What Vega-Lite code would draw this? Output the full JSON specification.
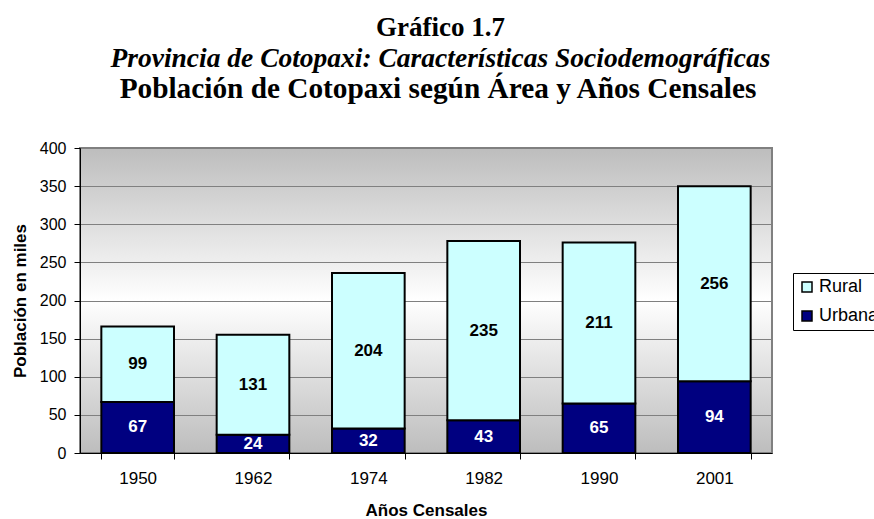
{
  "$schema": "https://vega.github.io/schema/vega-lite/v6.json",
  "background": "white",
  "padding": {"left": 10, "top": 14, "right": 0, "bottom": 0},
  "title": {
    "text": "Gráfico 1.7",
    "subtitle": "Provincia de Cotopaxi: Características Sociodemográficas",
    "font": "Liberation Serif",
    "fontSize": 27,
    "lineHeight": 22,
    "fontWeight": "bold",
    "color": "black",
    "subtitleFont": "Liberation Serif",
    "subtitleFontSize": 27.5,
    "subtitleLineHeight": 22,
    "subtitleFontStyle": "italic",
    "subtitleFontWeight": "bold",
    "subtitleColor": "black",
    "subtitlePadding": 3,
    "anchor": "middle",
    "dx": -7,
    "offset": 0
  },
  "datasets": {
    "pob": [
      {"anio": "1950", "area": "Urbana", "poblacion": 67},
      {"anio": "1950", "area": "Rural", "poblacion": 99},
      {"anio": "1962", "area": "Urbana", "poblacion": 24},
      {"anio": "1962", "area": "Rural", "poblacion": 131},
      {"anio": "1974", "area": "Urbana", "poblacion": 32},
      {"anio": "1974", "area": "Rural", "poblacion": 204},
      {"anio": "1982", "area": "Urbana", "poblacion": 43},
      {"anio": "1982", "area": "Rural", "poblacion": 235},
      {"anio": "1990", "area": "Urbana", "poblacion": 65},
      {"anio": "1990", "area": "Rural", "poblacion": 211},
      {"anio": "2001", "area": "Urbana", "poblacion": 94},
      {"anio": "2001", "area": "Rural", "poblacion": 256}
    ]
  },
  "vconcat": [
    {
      "title": {
        "text": "Población de Cotopaxi según Área y Años Censales",
        "font": "Liberation Serif",
        "fontSize": 29.3,
        "lineHeight": 22,
        "fontWeight": "bold",
        "color": "black",
        "anchor": "middle",
        "dx": 12,
        "offset": 36
      },
      "width": 692,
      "height": 305,
      "view": {
        "stroke": "#808080",
        "strokeWidth": 2,
        "fill": {
          "gradient": "linear",
          "x1": 0, "y1": 0, "x2": 0, "y2": 1,
          "stops": [
            {"offset": 0, "color": "#bdbdbd"},
            {"offset": 0.5, "color": "#ffffff"},
            {"offset": 1, "color": "#bdbdbd"}
          ]
        }
      },
      "data": {"name": "pob"},
      "layer": [
        {
          "mark": {"type": "bar", "stroke": "black", "strokeWidth": 2},
          "encoding": {
            "x": {
              "field": "anio",
              "type": "nominal",
              "scale": {"paddingInner": 0.37, "paddingOuter": 0.185},
              "axis": {
                "title": "Años Censales",
                "labelAngle": 0,
                "labelFontSize": 17,
                "tickBand": "extent",
                "tickSize": 6,
                "labelPadding": 11,
                "titlePadding": 16
              }
            },
            "y": {
              "field": "poblacion",
              "type": "quantitative",
              "stack": "zero",
              "scale": {"domain": [0, 400], "nice": false},
              "axis": {
                "title": "Población en miles",
                "values": [0, 50, 100, 150, 200, 250, 300, 350, 400],
                "labelOverlap": false,
                "grid": true,
                "tickSize": 6,
                "labelPadding": 8,
                "titlePadding": 10
              }
            },
            "color": {
              "field": "area",
              "type": "nominal",
              "scale": {"domain": ["Rural", "Urbana"], "range": ["#CCFFFF", "#000080"]},
              "legend": {
                "title": null,
                "orient": "none",
                "legendX": 713,
                "legendY": 125
              }
            },
            "order": {"field": "area", "sort": "descending"}
          }
        },
        {
          "mark": {"type": "text", "fontWeight": "bold", "fontSize": 17, "font": "Liberation Sans", "baseline": "middle"},
          "encoding": {
            "x": {"field": "anio", "type": "nominal"},
            "y": {
              "field": "poblacion",
              "type": "quantitative",
              "stack": "zero",
              "bandPosition": 0.5,
              "axis": {
                "title": "Población en miles",
                "values": [0, 50, 100, 150, 200, 250, 300, 350, 400],
                "labelOverlap": false,
                "grid": true,
                "tickSize": 6,
                "labelPadding": 8,
                "titlePadding": 10
              }
            },
            "detail": {"field": "area"},
            "order": {"field": "area", "sort": "descending"},
            "text": {"field": "poblacion", "type": "quantitative"},
            "color": {
              "condition": {"test": "datum.area === 'Urbana'", "value": "white"},
              "value": "black"
            }
          }
        }
      ]
    }
  ],
  "config": {
    "font": "Liberation Sans",
    "axis": {
      "domainColor": "black",
      "domainWidth": 1,
      "tickColor": "black",
      "labelColor": "black",
      "labelFont": "Liberation Sans",
      "labelFontSize": 16,
      "titleFont": "Liberation Sans",
      "titleFontSize": 17,
      "titleFontWeight": "bold",
      "titleColor": "black",
      "gridColor": "#808080",
      "gridWidth": 1
    },
    "legend": {
      "labelFont": "Liberation Sans",
      "labelFontSize": 18,
      "labelColor": "black",
      "symbolType": "square",
      "symbolSize": 100,
      "symbolStrokeColor": "black",
      "symbolStrokeWidth": 1.5,
      "strokeColor": "black",
      "fillColor": "white",
      "padding": 5,
      "rowPadding": 11,
      "labelOffset": 3
    }
  }
}
